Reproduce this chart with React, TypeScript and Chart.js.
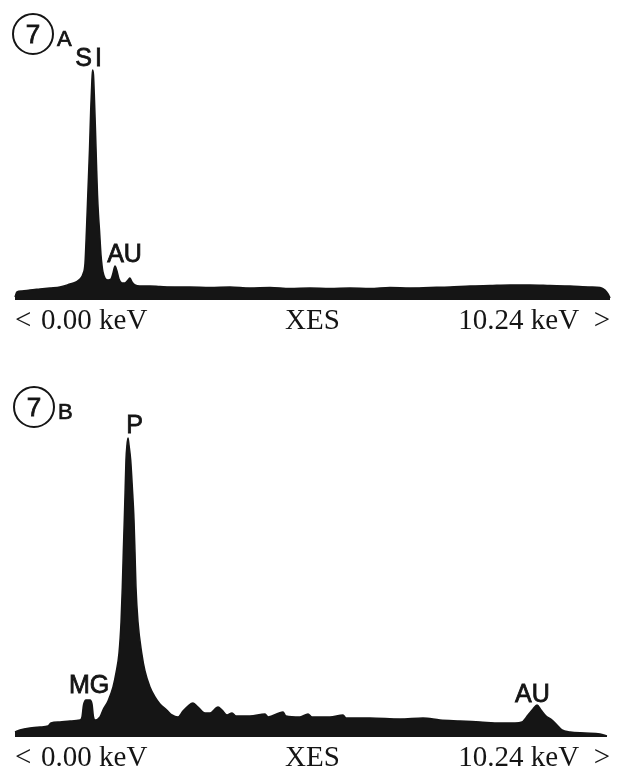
import React, { useEffect, useRef } from 'react';
import { Chart, registerables } from 'chart.js';

Chart.register(...registerables);

const INK = '#151515';

// x-axis: display range of the analyser, 0.00 .. 10.24 keV
const TICK_VALUES = [0, 5.12, 10.24];
const TICK_LABELS = ['<\u20040.00 keV', 'XES', '10.24 keV\u2002>'];

// Panel 7A spectrum (energy keV, intensity arbitrary units)
const ENERGY_A = [
  0.0, 0.034, 0.12, 0.258, 0.43, 0.602, 0.774, 0.947, 1.05, 1.119, 1.17, 1.205,
  1.23, 1.256, 1.282, 1.303, 1.32, 1.334, 1.351, 1.368, 1.385, 1.403, 1.42, 1.437,
  1.454, 1.48, 1.497, 1.514, 1.549, 1.601, 1.652, 1.687, 1.721, 1.755, 1.79, 1.841,
  1.893, 1.945, 1.979, 2.014, 2.065, 2.151, 2.323, 2.495, 2.754, 3.012, 3.356, 3.7,
  4.044, 4.389, 4.733, 5.077, 5.421, 5.765, 6.11, 6.454, 6.798, 7.142, 7.486, 7.831,
  8.175, 8.519, 8.863, 9.207, 9.552, 9.896, 10.068, 10.154, 10.206, 10.24,
];
const COUNTS_A = [
  3, 8, 9, 10, 11, 12, 13, 16, 18, 21, 26, 37,
  70, 110, 150, 190, 215, 230, 225, 200, 170, 135, 105, 85,
  70, 45, 35, 28, 22, 20, 21, 27, 34, 29, 21, 17,
  17, 20, 22, 18, 15, 14, 14, 13.5, 13, 13, 12.5, 13,
  12, 12.5, 11.5, 12, 11.5, 12, 11.5, 12.5, 12, 12.5, 13, 14,
  14.5, 15, 15, 14.5, 14, 13, 12.5, 10, 6, 2,
];

// Panel 7B spectrum
const ENERGY_B = [
  0.0, 0.086, 0.258, 0.43, 0.568, 0.62, 0.774, 0.947, 1.119, 1.153, 1.179, 1.222,
  1.291, 1.325, 1.351, 1.377, 1.463, 1.514, 1.601, 1.687, 1.738, 1.79, 1.825, 1.847,
  1.864, 1.881, 1.897, 1.91, 1.927, 1.945, 1.962, 1.991, 2.019, 2.048, 2.065, 2.082,
  2.117, 2.181, 2.237, 2.323, 2.409, 2.495, 2.611, 2.702, 2.805, 2.891, 2.977, 3.063,
  3.149, 3.27, 3.356, 3.494, 3.562, 3.649, 3.735, 3.803, 4.044, 4.303, 4.354, 4.612,
  4.664, 4.905, 5.043, 5.111, 5.421, 5.645, 5.697, 6.11, 6.626, 7.022, 7.314, 7.659,
  8.003, 8.347, 8.605, 8.726, 8.829, 8.915, 8.984, 9.053, 9.139, 9.242, 9.328, 9.414,
  9.552, 9.81, 10.068, 10.188,
];
const COUNTS_B = [
  5, 7, 9, 10, 11, 14, 15, 16, 17, 20, 32, 37,
  37, 33, 20, 17, 20, 27, 36, 50, 64, 84, 115, 150,
  185, 217, 250, 277, 292, 299, 292, 277, 250, 217, 185, 150,
  115, 84, 66, 50, 40, 33, 27, 22, 20, 26, 31, 34,
  30, 24, 24, 30, 27, 22, 24, 21, 21, 23, 20, 25,
  21, 20, 23, 20, 20, 22, 19, 19, 18, 19, 17, 16,
  15, 14, 14, 15, 22, 28, 32, 27, 21, 17, 12, 7,
  5, 4, 3, 1,
];

// Peak identifications
const PEAKS_A = ['SI', 'AU'];
const PEAK_E_A = [1.291, 1.885];
const PEAK_Y_A = [234, 38];

const PEAKS_B = ['MG', 'P', 'AU'];
const PEAK_E_B = [1.274, 2.057, 8.906];
const PEAK_Y_B = [44, 304, 35];

const peakLabelPlugin = {
  id: 'peakLabels',
  afterDatasetsDraw(chart: any, _args: any, opts: any) {
    const { ctx } = chart;
    const xs = chart.scales.x;
    const ys = chart.scales.y;
    ctx.save();
    ctx.fillStyle = INK;
    ctx.strokeStyle = INK;
    ctx.lineWidth = 0.8;
    ctx.font = '25px "Liberation Sans", Arial, sans-serif';
    ctx.textAlign = 'center';
    ctx.textBaseline = 'alphabetic';
    (opts.names as string[]).forEach((name, i) => {
      ctx.letterSpacing = name === 'SI' ? '3px' : '0px';
      const px = xs.getPixelForValue(opts.energies[i]);
      const py = ys.getPixelForValue(opts.values[i]);
      ctx.fillText(name, px, py);
      ctx.strokeText(name, px, py);
    });
    ctx.restore();
  },
};

type SpecProps = {
  energy: number[];
  counts: number[];
  names: string[];
  energies: number[];
  values: number[];
  top: number;
  height: number;
  padTop: number;
  yMax: number;
  axisHeight: number;
};

function Spectrum(p: SpecProps) {
  const ref = useRef<HTMLCanvasElement>(null);
  useEffect(() => {
    const chart = new Chart(ref.current as HTMLCanvasElement, {
      type: 'line',
      data: {
        datasets: [
          {
            data: p.energy.map((e, i) => ({ x: e, y: p.counts[i] })),
            fill: 'origin',
            backgroundColor: INK,
            borderColor: INK,
            borderWidth: 1.5,
            pointRadius: 0,
            cubicInterpolationMode: 'monotone',
            clip: false as any,
          },
        ],
      },
      options: {
        animation: false,
        responsive: false,
        maintainAspectRatio: false,
        events: [],
        layout: { padding: { left: 15, right: 7, top: p.padTop, bottom: 0 } },
        plugins: {
          legend: { display: false },
          tooltip: { enabled: false },
          peakLabels: { names: p.names, energies: p.energies, values: p.values },
        } as any,
        scales: {
          x: {
            type: 'linear',
            min: 0,
            max: 10.24,
            afterBuildTicks: (s: any) => {
              s.ticks = TICK_VALUES.map((v) => ({ value: v }));
            },
            afterFit: (s: any) => {
              s.height = p.axisHeight;
            },
            grid: { display: false, drawTicks: false },
            border: { display: false },
            ticks: {
              align: 'inner',
              autoSkip: false,
              maxRotation: 0,
              padding: 7,
              color: INK,
              font: { family: '"Liberation Serif", "Times New Roman", serif', size: 29, lineHeight: 1 },
              callback: (_v: any, i: number) => TICK_LABELS[i],
            },
          } as any,
          y: { display: false, min: 0, max: p.yMax },
        },
      },
      plugins: [peakLabelPlugin as any],
    });
    return () => chart.destroy();
  }, []);
  return (
    <canvas
      ref={ref}
      width={617}
      height={p.height}
      style={{ position: 'absolute', left: 0, top: p.top, width: 617, height: p.height }}
    />
  );
}

function PanelTag({ cx, cy, letter }: { cx: number; cy: number; letter: string }) {
  return (
    <>
      <div
        style={{
          position: 'absolute',
          left: cx - 21,
          top: cy - 21,
          width: 42,
          height: 42,
          boxSizing: 'border-box',
          border: `2.5px solid ${INK}`,
          borderRadius: '50%',
          display: 'flex',
          alignItems: 'center',
          justifyContent: 'center',
          font: '26px "Liberation Sans", Arial, sans-serif',
          lineHeight: '26px',
          color: INK,
          WebkitTextStroke: `0.8px ${INK}`,
        }}
      >
        7
      </div>
      <div
        style={{
          position: 'absolute',
          left: cx + 24,
          top: cy - 6,
          font: '22px "Liberation Sans", Arial, sans-serif',
          lineHeight: '22px',
          color: INK,
          WebkitTextStroke: `0.7px ${INK}`,
        }}
      >
        {letter}
      </div>
    </>
  );
}

export default function App() {
  return (
    <div
      style={{
        position: 'fixed',
        left: 0,
        top: 0,
        width: 617,
        height: 771,
        background: '#ffffff',
        overflow: 'hidden',
      }}
    >
      <Spectrum
        energy={ENERGY_A}
        counts={COUNTS_A}
        names={PEAKS_A}
        energies={PEAK_E_A}
        values={PEAK_Y_A}
        top={0}
        height={345}
        padTop={70}
        yMax={230}
        axisHeight={45}
      />
      <Spectrum
        energy={ENERGY_B}
        counts={COUNTS_B}
        names={PEAKS_B}
        energies={PEAK_E_B}
        values={PEAK_Y_B}
        top={370}
        height={401}
        padTop={68}
        yMax={299}
        axisHeight={34}
      />
      <PanelTag cx={33} cy={34} letter="A" />
      <PanelTag cx={34} cy={407} letter="B" />
    </div>
  );
}
